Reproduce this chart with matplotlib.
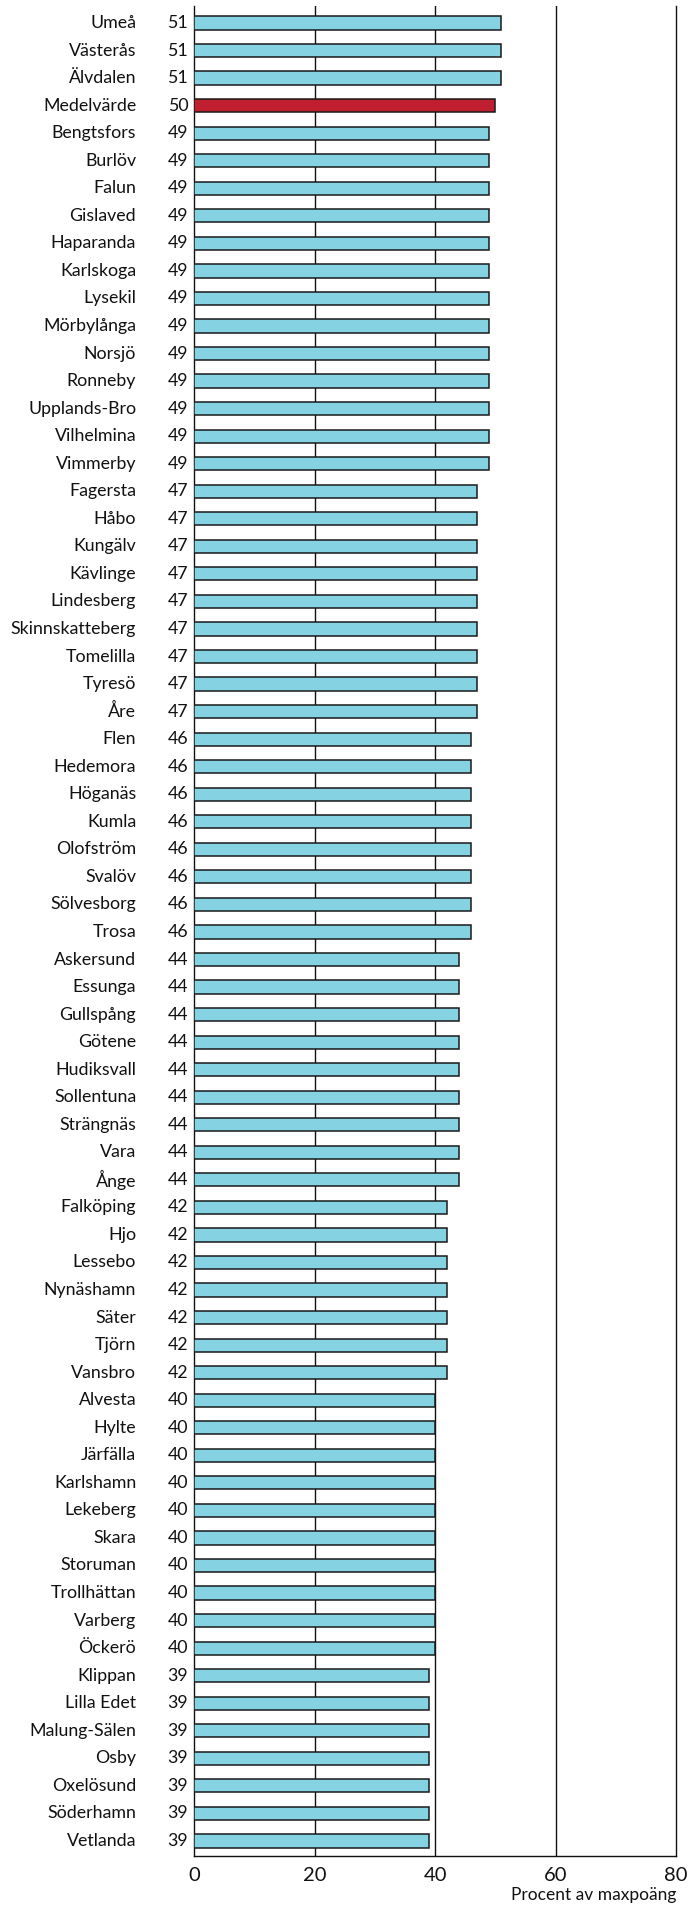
import matplotlib.pyplot as plt
from matplotlib.transforms import blended_transform_factory

plt.rcParams['font.family'] = ['Lato', 'DejaVu Sans']

kommuner = [
    "Umeå", "Västerås", "Älvdalen", "Medelvärde", "Bengtsfors", "Burlöv", "Falun",
    "Gislaved", "Haparanda", "Karlskoga", "Lysekil", "Mörbylånga", "Norsjö", "Ronneby",
    "Upplands-Bro", "Vilhelmina", "Vimmerby", "Fagersta", "Håbo", "Kungälv", "Kävlinge",
    "Lindesberg", "Skinnskatteberg", "Tomelilla", "Tyresö", "Åre", "Flen", "Hedemora",
    "Höganäs", "Kumla", "Olofström", "Svalöv", "Sölvesborg", "Trosa", "Askersund",
    "Essunga", "Gullspång", "Götene", "Hudiksvall", "Sollentuna", "Strängnäs", "Vara",
    "Ånge", "Falköping", "Hjo", "Lessebo", "Nynäshamn", "Säter", "Tjörn", "Vansbro",
    "Alvesta", "Hylte", "Järfälla", "Karlshamn", "Lekeberg", "Skara", "Storuman",
    "Trollhättan", "Varberg", "Öckerö", "Klippan", "Lilla Edet", "Malung-Sälen", "Osby",
    "Oxelösund", "Söderhamn", "Vetlanda",
]
varden = (
    [51, 51, 51, 50]
    + [49] * 13
    + [47] * 9
    + [46] * 8
    + [44] * 9
    + [42] * 7
    + [40] * 10
    + [39] * 7
)

x_ticks = [0, 20, 40, 60, 80]
x_label = "Procent av maxpoäng"

BLA = "#84d2e2"
ROD = "#c01f2f"

fig = plt.figure(figsize=(6.88, 19.07), dpi=100)
ax = fig.add_axes([0.2827, 0.0267, 0.6999, 0.9702])

pos = list(range(len(kommuner)))
farger = [ROD if k == "Medelvärde" else BLA for k in kommuner]
ax.barh(pos, varden, height=0.48, color=farger, edgecolor="#1a1a1a",
        linewidth=1.1, zorder=3)

ax.set_ylim(len(kommuner) - 0.45, -0.62)
ax.set_xlim(0, 80)
ax.set_yticks([])
ax.set_xticks(x_ticks)
ax.tick_params(axis="x", length=0, labelsize=14.5, pad=8, colors="#111111")
for x in x_ticks[1:-1]:
    ax.axvline(x, color="#111111", linewidth=1, zorder=1)

ax.spines["top"].set_visible(False)
for s in ["left", "bottom", "right"]:
    ax.spines[s].set_linewidth(1)
    ax.spines[s].set_color("#111111")

trans = blended_transform_factory(ax.transAxes, ax.transData)
for i, (namn, v) in enumerate(zip(kommuner, varden)):
    ax.text(-0.121, i, namn, transform=trans, ha="right", va="center",
            fontsize=12.8, color="#111111")
    ax.text(-0.013, i, str(v), transform=trans, ha="right", va="center",
            fontsize=12.8, color="#111111")

ax.text(1.0, -0.0212, x_label, transform=ax.transAxes, ha="right", va="center",
        fontsize=12.5, color="#111111")

fig.savefig("out.png", dpi=100)
